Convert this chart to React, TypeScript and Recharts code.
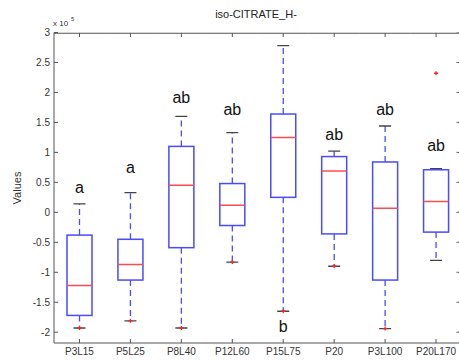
import React from "react";
import { ComposedChart, Bar, XAxis, YAxis } from "recharts";

// values are in units of 1e5
const categories = ["P3L15", "P5L25", "P8L40", "P12L60", "P15L75", "P20", "P3L100", "P20L170"];
const whiskerLow = [-1.93, -1.81, -1.93, -0.83, -1.65, -0.9, -1.94, -0.8];
const q1 = [-1.72, -1.13, -0.59, -0.22, 0.25, -0.36, -1.13, -0.33];
const median = [-1.22, -0.87, 0.45, 0.12, 1.25, 0.69, 0.07, 0.18];
const q3 = [-0.38, -0.45, 1.1, 0.48, 1.64, 0.93, 0.84, 0.71];
const whiskerHigh = [0.14, 0.33, 1.6, 1.33, 2.78, 1.02, 1.44, 0.73];
const outliers = [[-1.93], [-1.81], [-1.93], [-0.83], [-1.65], [-0.9], [-1.94], [2.32]];
const letters = ["a", "a", "ab", "ab", "b", "ab", "ab", "ab"];
const letterAt = [0.32, 0.65, 1.82, 1.63, -2.0, 1.2, 1.62, 1.02];
const yTicks = [-2, -1.5, -1, -0.5, 0, 0.5, 1, 1.5, 2, 2.5, 3];
const yMin = -2.18;
const yMax = 3;

const data = categories.map((name, i) => ({
  name,
  lo: whiskerLow[i],
  q1: q1[i],
  med: median[i],
  q3: q3[i],
  hi: whiskerHigh[i],
  out: outliers[i],
  letter: letters[i],
  letterAt: letterAt[i],
}));

const BLUE = "#4a4aff";
const RED = "#ff4d4d";
const AXIS = "#555";
const FONT = "'Liberation Sans', Arial, sans-serif";

function BoxShape(props: any) {
  const { x, y, width, height, payload, index } = props;
  const { lo, hi } = payload;
  // bar spans lo..hi over the full band, so map any value through the same linear scale
  const k = height / (hi - lo);
  const py = (v: number) => y + (hi - v) * k;
  const cx = x + width / 2;
  const bw = 12.5;
  const cw = 6;
  // keep the frame just inside the plot clip
  const top = py(yMax) + 0.6;
  const isLast = index === categories.length - 1;
  return (
    <g>
      <line x1={x} x2={x + width} y1={top} y2={top} stroke={AXIS} strokeWidth={1.2} />
      <line x1={cx} x2={cx} y1={top} y2={top + 4} stroke={AXIS} />
      {isLast && (
        <g stroke={AXIS}>
          <line x1={x + width - 0.6} x2={x + width - 0.6} y1={top} y2={py(yMin)} />
          {yTicks.map((t) => (
            <line key={t} x1={x + width - 5} x2={x + width} y1={py(t)} y2={py(t)} />
          ))}
        </g>
      )}
      <line x1={cx} x2={cx} y1={py(payload.q3)} y2={py(hi)} stroke={BLUE} strokeWidth={1.3} strokeDasharray="6 4" />
      <line x1={cx} x2={cx} y1={py(payload.q1)} y2={py(lo)} stroke={BLUE} strokeWidth={1.3} strokeDasharray="6 4" />
      <line x1={cx - cw} x2={cx + cw} y1={py(hi)} y2={py(hi)} stroke="#444" strokeWidth={1.3} />
      <line x1={cx - cw} x2={cx + cw} y1={py(lo)} y2={py(lo)} stroke="#444" strokeWidth={1.3} />
      <rect x={cx - bw} y={py(payload.q3)} width={bw * 2} height={py(payload.q1) - py(payload.q3)} fill="#fff" stroke={BLUE} strokeWidth={1.5} />
      <line x1={cx - bw} x2={cx + bw} y1={py(payload.med)} y2={py(payload.med)} stroke={RED} strokeWidth={1.5} />
      {payload.out.map((v: number, j: number) => (
        <g key={j} stroke="#ff2020" strokeWidth={1.3}>
          <line x1={cx - 2} x2={cx + 2} y1={py(v)} y2={py(v)} />
          <line x1={cx} x2={cx} y1={py(v) - 2} y2={py(v) + 2} />
        </g>
      ))}
      <text x={cx} y={py(payload.letterAt)} textAnchor="middle" fontSize={16} fontFamily={FONT} fill="#111">
        {payload.letter}
      </text>
    </g>
  );
}

export default function App() {
  const tickStyle = { fontSize: 10, fill: "#333", fontFamily: FONT };
  return (
    <div style={{ position: "absolute", left: 0, top: 0, width: 459, height: 362, overflow: "hidden", background: "#fff" }}>
      <ComposedChart
        width={470}
        height={362}
        data={data}
        barCategoryGap={0}
        margin={{ top: 32.5, right: 8.5, bottom: 0, left: 0 }}
      >
        <XAxis dataKey="name" tick={tickStyle} tickSize={-4} tickMargin={9} stroke={AXIS} height={19} interval={0} />
        <YAxis
          type="number"
          domain={[yMin, yMax]}
          allowDataOverflow
          ticks={yTicks}
          interval={0}
          tick={tickStyle}
          tickSize={-4}
          tickMargin={8}
          stroke={AXIS}
          width={54}
        />
        <Bar
          dataKey={(d: any) => [d.lo, d.hi]}
          shape={BoxShape}
          isAnimationActive={false}
        />
      </ComposedChart>
      <svg width={459} height={362} style={{ position: "absolute", left: 0, top: 0, pointerEvents: "none" }}>
        <text x={256} y={17.5} textAnchor="middle" fontSize={11} fontFamily={FONT} fill="#222">
          iso-CITRATE_H-
        </text>
        <text x={53} y={26} fontSize={8} fontFamily={FONT} fill="#333">
          x 10
        </text>
        <text x={71} y={21} fontSize={6} fontFamily={FONT} fill="#333">
          5
        </text>
        <text x={0} y={0} transform="translate(21,188) rotate(-90)" textAnchor="middle" fontSize={11} fontFamily={FONT} fill="#333">
          Values
        </text>
      </svg>
    </div>
  );
}
